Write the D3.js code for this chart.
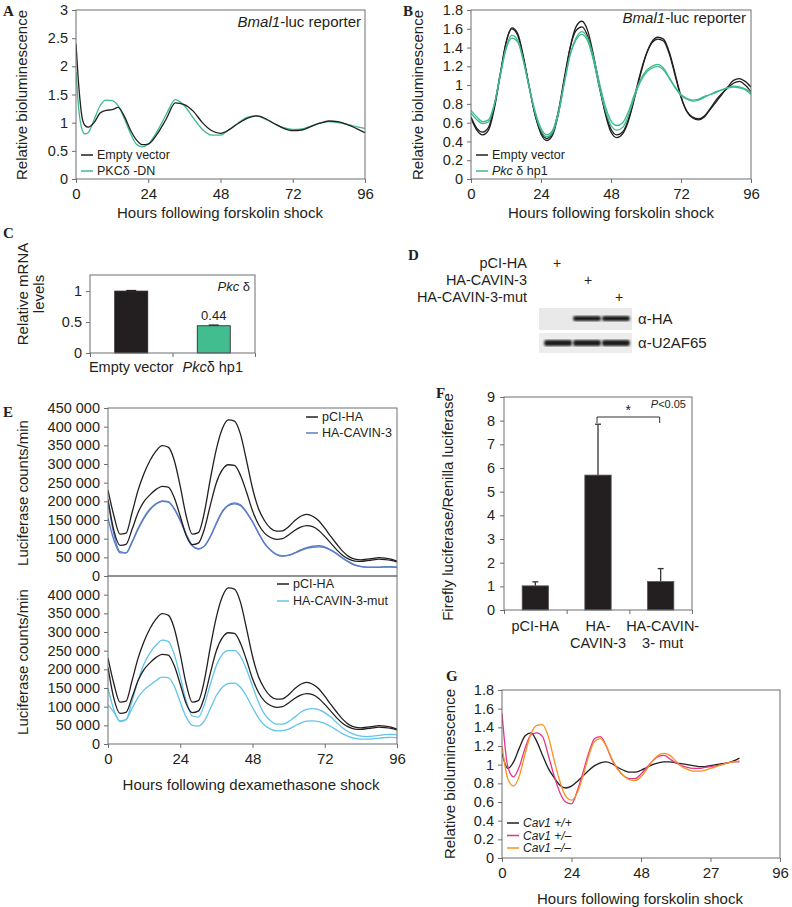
<!DOCTYPE html>
<html>
<head>
<meta charset="utf-8">
<script src="https://cdn.jsdelivr.net/npm/d3@7"></script>
<style>
body { margin: 0; background: #fff; }
svg { font-family: "Liberation Sans", Arial, sans-serif; }
</style>
</head>
<body>
<svg id="fig" width="792" height="907"></svg>
<script>
// ---- data ----
const hoursA = [0,1,2,3,4,6,8,10,12,14,16,18,20,22,24,27,30,33,36,39,42,45,48,51,54,57,60,63,66,69,72,75,78,81,84,87,90,93,96]
const emptyA = [2.4,1.6,1.1,0.95,0.92,1.0,1.17,1.22,1.23,1.27,1.12,0.88,0.7,0.61,0.62,0.8,1.07,1.35,1.32,1.2,1.0,0.86,0.81,0.88,0.99,1.08,1.12,1.07,0.98,0.9,0.86,0.87,0.93,0.99,1.03,1.02,0.97,0.9,0.82]
const pkcDnA = [1.9,1.2,0.88,0.8,0.82,1.05,1.3,1.4,1.39,1.3,1.08,0.82,0.62,0.57,0.62,0.85,1.15,1.41,1.3,1.08,0.88,0.78,0.78,0.88,1.0,1.1,1.12,1.06,0.98,0.91,0.88,0.89,0.94,0.99,1.02,1.0,0.97,0.93,0.9]

const hours2 = [0,2,4,6,8,10,12,14,16,18,20,22,24,26,28,30,32,34,36,38,40,42,44,46,48,50,52,54,56,58,60,62,64,66,68,70,72,74,76,78,80,82,84,86,88,90,92,94,96]
const emptyB1 = [0.65,0.52,0.47,0.52,0.75,1.1,1.45,1.61,1.55,1.3,0.98,0.68,0.48,0.41,0.47,0.7,1.05,1.4,1.62,1.68,1.58,1.32,1.0,0.7,0.5,0.44,0.48,0.62,0.85,1.1,1.32,1.46,1.51,1.49,1.35,1.12,0.88,0.72,0.65,0.63,0.66,0.74,0.82,0.9,0.98,1.05,1.07,1.04,0.98]
const emptyB2 = [0.66,0.54,0.5,0.55,0.78,1.12,1.45,1.6,1.53,1.28,0.97,0.68,0.5,0.43,0.5,0.73,1.08,1.4,1.58,1.62,1.52,1.28,0.98,0.72,0.53,0.47,0.5,0.64,0.87,1.12,1.32,1.45,1.49,1.47,1.33,1.1,0.87,0.72,0.66,0.64,0.67,0.75,0.84,0.91,0.97,1.02,1.04,1.0,0.93]
const hpB1 = [0.73,0.66,0.61,0.63,0.8,1.1,1.38,1.5,1.46,1.25,0.97,0.72,0.54,0.47,0.52,0.72,1.03,1.33,1.5,1.57,1.5,1.3,1.03,0.78,0.62,0.57,0.6,0.72,0.9,1.05,1.15,1.2,1.22,1.18,1.08,0.98,0.9,0.86,0.84,0.85,0.88,0.9,0.93,0.95,0.97,0.99,0.98,0.96,0.92]
const hpB2 = [0.7,0.63,0.59,0.61,0.79,1.1,1.4,1.53,1.48,1.26,0.97,0.7,0.52,0.45,0.5,0.7,1.02,1.32,1.48,1.54,1.47,1.26,0.98,0.74,0.57,0.52,0.55,0.68,0.87,1.03,1.13,1.18,1.2,1.16,1.07,0.97,0.89,0.85,0.83,0.84,0.87,0.9,0.92,0.95,0.97,0.98,0.97,0.95,0.9]

const mrnaGroups = ["Empty vector", "Pkcδ hp1"]
const mrnaValues = [1.0, 0.44]
const mrnaErrors = [0.01, 0.012]

const blotLanes = ["pCI-HA", "HA-CAVIN-3", "HA-CAVIN-3-mut"]
const blotHA = [0, 1, 1]
const blotU2AF = [1, 1, 1]

// luciferase counts, thousands
const pciE1 = [230,160,112,115,170,230,275,310,335,349,345,310,240,160,112,116,170,260,340,395,418,415,380,310,235,180,148,128,120,121,132,148,160,165,160,148,128,106,85,66,52,45,43,45,47,49,48,45,40]
const pciE2 = [205,120,82,85,125,170,200,218,232,240,238,210,160,108,84,88,125,190,250,285,298,296,270,225,175,138,115,103,98,100,110,122,131,135,132,122,106,88,70,55,45,40,39,41,43,45,44,42,38]
const cavinE1 = [200,110,65,62,90,125,155,178,193,200,198,180,150,112,82,73,80,105,140,172,188,193,188,170,145,115,88,70,58,54,56,62,70,76,80,81,78,70,60,48,38,30,26,24,24,24,25,25,24]
const cavinE2 = [155,95,62,62,92,128,158,180,194,201,199,180,148,110,80,72,80,106,142,174,190,196,191,172,146,115,87,69,57,53,55,61,68,74,77,78,76,69,59,47,37,29,25,23,23,23,24,24,23]
const mutE1 = [150,90,62,65,115,170,215,245,265,278,275,240,180,115,75,72,105,160,210,240,250,250,235,200,155,112,80,62,53,53,60,72,85,93,95,92,84,72,57,43,32,25,21,20,21,23,25,26,25]
const mutE2 = [105,85,60,65,95,125,145,158,170,179,178,155,112,72,50,48,62,95,130,152,162,163,152,128,98,70,50,40,35,36,40,48,56,61,62,60,55,47,37,27,20,15,13,13,14,16,17,18,17]

const ratioGroups = ["pCI-HA", "HA-CAVIN-3", "HA-CAVIN-3- mut"]
const ratioValues = [1.02, 5.7, 1.2]
const ratioErrors = [0.17, 2.15, 0.55]

const hoursG = [0,2,4,6,8,10,12,14,16,18,20,22,24,26,28,30,32,34,36,38,40,42,44,46,48,50,52,54,56,58,60,62,64,66,68,70,72,74,76,78,80,82]
const cavWT = [1.12,0.96,1.03,1.18,1.31,1.34,1.25,1.1,0.96,0.86,0.78,0.75,0.77,0.82,0.88,0.94,0.99,1.02,1.03,1.01,0.97,0.94,0.92,0.92,0.94,0.97,1.0,1.02,1.03,1.03,1.02,1.01,1.0,0.99,0.98,0.98,0.99,1.0,1.01,1.02,1.04,1.07]
const cavHet = [1.55,0.98,0.87,0.98,1.18,1.32,1.34,1.3,1.1,0.88,0.7,0.6,0.58,0.72,0.92,1.13,1.28,1.3,1.2,1.05,0.95,0.88,0.85,0.85,0.9,0.97,1.04,1.09,1.1,1.06,1.02,0.99,0.97,0.96,0.96,0.97,0.98,0.99,1.0,1.02,1.03,1.03]
const cavKO = [1.2,0.85,0.77,0.88,1.12,1.33,1.42,1.43,1.3,1.05,0.82,0.66,0.62,0.7,0.88,1.1,1.25,1.28,1.2,1.06,0.95,0.88,0.84,0.83,0.87,0.95,1.04,1.1,1.12,1.1,1.04,0.98,0.95,0.93,0.93,0.94,0.96,0.98,1.0,1.02,1.03,1.04]

const hourTicks = [0, 24, 48, 72, 96]
const hourLabelsG = ["0", "24", "48", "27", "96"]

// ---- styling ----
const ink = "#231f20", frame = "#6d6e71"
const black = "#231f20", green = "#3fba8c", blue = "#5a7ec8", lightBlue = "#62c4ea"
const magenta = "#e6338b", orange = "#f7931e"
const svg = d3.select("#fig")

function letter(t, x, y) {
  svg.append("text").attr("x", x).attr("y", y)
    .attr("font-family", '"Liberation Serif", serif').attr("font-weight", "bold")
    .attr("font-size", 15).attr("fill", ink).text(t)
}

function yTitle(lines, x, y, size) {
  const t = svg.append("text").attr("transform", `translate(${x},${y}) rotate(-90)`)
    .attr("text-anchor", "middle").attr("font-size", size || 15).attr("fill", ink)
  lines.forEach((l, i) => t.append("tspan").attr("x", 0).attr("dy", i ? 16 : 0).text(l))
  return t
}

function styleAxis(a, size) {
  a.select(".domain").remove()
  a.selectAll("line").attr("stroke", frame)
  a.selectAll("text").attr("font-size", size || 14.5).attr("fill", ink)
    .attr("font-family", '"Liberation Sans", Arial, sans-serif')
}

let clipN = 0
function linePanel(o) {
  const x = d3.scaleLinear().domain([0, 96]).range([o.left, o.right])
  const y = d3.scaleLinear().domain(o.yDomain).range([o.bottom, o.top])
  const g = svg.append("g")
  const id = "clip" + (clipN++)
  g.append("clipPath").attr("id", id).append("rect")
    .attr("x", o.left).attr("y", o.top).attr("width", o.right - o.left).attr("height", o.bottom - o.top)
  const line = d3.line().x(d => x(d[0])).y(d => y(d[1])).curve(d3.curveMonotoneX)
  o.series.forEach(s => {
    g.append("path")
      .datum(s.hours.map((h, i) => [h, s.values[i] * (o.mult || 1)]))
      .attr("clip-path", `url(#${id})`)
      .attr("fill", "none").attr("stroke", s.color).attr("stroke-width", 1.3)
      .attr("d", line)
  })
  g.append("rect").attr("x", o.left).attr("y", o.top)
    .attr("width", o.right - o.left).attr("height", o.bottom - o.top)
    .attr("fill", "none").attr("stroke", frame).attr("stroke-width", 1)
  g.append("g").attr("transform", `translate(${o.left},0)`)
    .call(d3.axisLeft(y).tickValues(o.yTicks).tickFormat(o.yFormat).tickSizeInner(4).tickSizeOuter(0).tickPadding(4))
    .call(a => styleAxis(a))
  if (o.xTicks) {
    g.append("g").attr("transform", `translate(0,${o.bottom})`)
      .call(d3.axisBottom(x).tickValues(o.xTicks).tickFormat((d, i) => o.xLabels ? o.xLabels[i] : d)
        .tickSizeInner(4).tickSizeOuter(0).tickPadding(5))
      .call(a => styleAxis(a, 15))
  }
  return { x, y, g }
}

function legend(items, x, y, dy, size) {
  items.forEach((it, i) => {
    const yy = y + i * dy
    svg.append("line").attr("x1", x).attr("x2", x + 12).attr("y1", yy).attr("y2", yy)
      .attr("stroke", it.color).attr("stroke-width", 1.5)
    const t = svg.append("text").attr("x", x + 16).attr("y", yy).attr("dy", "0.35em")
      .attr("font-size", size).attr("fill", ink)
    it.parts.forEach(p => t.append("tspan").attr("font-style", p.i ? "italic" : "normal").text(p.t))
  })
}

function reporterNote(xr, y) {
  const t = svg.append("text").attr("x", xr).attr("y", y).attr("text-anchor", "end")
    .attr("font-size", 15).attr("fill", ink)
  t.append("tspan").attr("font-style", "italic").text("Bmal1")
  t.append("tspan").text("-luc reporter")
}

const fmt1 = d => d3.format("")(+d.toFixed(1))
const fmtK = d3.formatLocale({ decimal: ".", thousands: "\u00a0", grouping: [3], currency: ["", ""] }).format(",d")

// ---- A ----
letter("A", 3, 16)
linePanel({
  left: 76, right: 365, top: 10, bottom: 179, yDomain: [0, 3],
  yTicks: [0, 0.5, 1, 1.5, 2, 2.5, 3], yFormat: fmt1, xTicks: hourTicks,
  series: [{ hours: hoursA, values: pkcDnA, color: green }, { hours: hoursA, values: emptyA, color: black }]
})
reporterNote(361, 27)
legend([{ color: black, parts: [{ t: "Empty vector" }] }, { color: green, parts: [{ t: "PKCδ -DN" }] }], 81, 155, 16, 12.5)
yTitle(["Relative bioluminescence"], 27, 95)
svg.append("text").attr("x", 220).attr("y", 218).attr("text-anchor", "middle").attr("font-size", 15).attr("fill", ink)
  .text("Hours following forskolin shock")

// ---- B ----
letter("B", 403, 16)
linePanel({
  left: 471, right: 751, top: 10, bottom: 179, yDomain: [0, 1.8],
  yTicks: [0, 0.2, 0.4, 0.6, 0.8, 1, 1.2, 1.4, 1.6, 1.8], yFormat: fmt1, xTicks: hourTicks,
  series: [
    { hours: hours2, values: emptyB1, color: black }, { hours: hours2, values: emptyB2, color: black },
    { hours: hours2, values: hpB1, color: green }, { hours: hours2, values: hpB2, color: green }
  ]
})
reporterNote(746, 23)
legend([{ color: black, parts: [{ t: "Empty vector" }] }, { color: green, parts: [{ t: "Pkc", i: 1 }, { t: " δ hp1" }] }], 476, 155, 16, 12.5)
yTitle(["Relative bioluminescence"], 423, 95)
svg.append("text").attr("x", 611).attr("y", 218).attr("text-anchor", "middle").attr("font-size", 15).attr("fill", ink)
  .text("Hours following forskolin shock")

// ---- C ----
letter("C", 3, 238)
{
  const left = 90, right = 255, top = 275, bottom = 353
  const x = d3.scaleBand().domain(mrnaGroups).range([left, right]).paddingInner(0.6).paddingOuter(0.3)
  const y = d3.scaleLinear().domain([0, 1.26]).range([bottom, top])
  const g = svg.append("g")
  g.selectAll(".barC").data(mrnaGroups).join("rect").attr("class", "barC")
    .attr("x", d => x(d)).attr("width", x.bandwidth())
    .attr("y", (d, i) => y(mrnaValues[i])).attr("height", (d, i) => y(0) - y(mrnaValues[i]))
    .attr("fill", (d, i) => i ? "#41bd8f" : black).attr("stroke", ink).attr("stroke-width", 0.8)
  mrnaGroups.forEach((d, i) => {
    const cx = x(d) + x.bandwidth() / 2
    g.append("line").attr("x1", cx - 5).attr("x2", cx + 5)
      .attr("y1", y(mrnaValues[i] + mrnaErrors[i])).attr("y2", y(mrnaValues[i] + mrnaErrors[i]))
      .attr("stroke", ink).attr("stroke-width", 1.2)
  })
  g.append("rect").attr("x", left).attr("y", top).attr("width", right - left).attr("height", bottom - top)
    .attr("fill", "none").attr("stroke", frame)
  g.append("g").attr("transform", `translate(${left},0)`)
    .call(d3.axisLeft(y).tickValues([0, 0.5, 1]).tickFormat(fmt1).tickSizeInner(4).tickSizeOuter(0).tickPadding(4))
    .call(a => styleAxis(a))
  g.append("g").attr("transform", `translate(0,${bottom})`)
    .call(d3.axisBottom(d3.scaleLinear().domain([0, 2]).range([left, right])).tickValues([0, 1, 2]).tickFormat("").tickSizeInner(4).tickSizeOuter(0))
    .call(a => styleAxis(a))
  g.append("text").attr("x", x(mrnaGroups[0]) + x.bandwidth() / 2).attr("y", 372)
    .attr("font-size", 14.5).attr("fill", ink).attr("text-anchor", "middle").text(mrnaGroups[0])
  const lab2 = g.append("text").attr("x", x(mrnaGroups[1]) + x.bandwidth() / 2 - 1).attr("y", 372)
    .attr("font-size", 14.5).attr("fill", ink).attr("text-anchor", "middle")
  lab2.append("tspan").attr("font-style", "italic").text("Pkc")
  lab2.append("tspan").text("δ hp1")
  g.append("text").attr("x", x(mrnaGroups[1]) + x.bandwidth() / 2).attr("y", y(mrnaValues[1]) - 6)
    .attr("text-anchor", "middle").attr("font-size", 13).attr("fill", ink).text(mrnaValues[1].toFixed(2))
  const pk = g.append("text").attr("x", 250).attr("y", 291).attr("text-anchor", "end").attr("font-size", 13).attr("fill", ink)
  pk.append("tspan").attr("font-style", "italic").text("Pkc")
  pk.append("tspan").text(" δ")
  yTitle(["Relative mRNA", "levels"], 28, 294)
}

// ---- D ----
letter("D", 408, 260)
{
  const lane = d3.scaleBand().domain(blotLanes).range([543, 631]).padding(0.04)
  const plusX = d3.scalePoint().domain(blotLanes).range([557, 619])
  const g = svg.append("g")
  const defs = svg.append("defs")
  defs.append("filter").attr("id", "blur").append("feGaussianBlur").attr("stdDeviation", 0.9)
  blotLanes.forEach((d, i) => {
    g.append("text").attr("x", 527).attr("y", 263 + i * 17).attr("dy", "0.35em").attr("text-anchor", "end")
      .attr("font-size", 14.5).attr("fill", ink).text(d)
    g.append("text").attr("x", plusX(d)).attr("y", 263 + i * 17).attr("dy", "0.35em").attr("text-anchor", "middle")
      .attr("font-size", 14).attr("fill", ink).text("+")
  })
  g.append("rect").attr("x", 539).attr("y", 308).attr("width", 93).attr("height", 22).attr("fill", "#e9e9e9")
  g.append("rect").attr("x", 539).attr("y", 333).attr("width", 93).attr("height", 20).attr("fill", "#ededed")
  g.selectAll(".bandHA").data(blotLanes.filter((d, i) => blotHA[i])).join("rect").attr("class", "bandHA")
    .attr("x", d => lane(d)).attr("width", lane.bandwidth()).attr("y", 316).attr("height", 5)
    .attr("rx", 2).attr("fill", "#1e1e1e").attr("filter", "url(#blur)")
  g.selectAll(".bandU").data(blotLanes.filter((d, i) => blotU2AF[i])).join("rect").attr("class", "bandU")
    .attr("x", d => lane(d)).attr("width", lane.bandwidth()).attr("y", 340).attr("height", 6)
    .attr("rx", 2).attr("fill", "#1e1e1e").attr("filter", "url(#blur)")
  g.append("text").attr("x", 638).attr("y", 319).attr("dy", "0.35em").attr("font-size", 15).attr("fill", ink).text("α-HA")
  g.append("text").attr("x", 638).attr("y", 343).attr("dy", "0.35em").attr("font-size", 15).attr("fill", ink).text("α-U2AF65")
}

// ---- E ----
letter("E", 3, 417)
linePanel({
  left: 108, right: 397, top: 408, bottom: 576, yDomain: [0, 450000], mult: 1000,
  yTicks: d3.range(0, 450001, 50000), yFormat: fmtK,
  series: [
    { hours: hours2, values: cavinE1, color: blue }, { hours: hours2, values: cavinE2, color: blue },
    { hours: hours2, values: pciE1, color: black }, { hours: hours2, values: pciE2, color: black }
  ]
})
linePanel({
  left: 108, right: 397, top: 576, bottom: 744, yDomain: [0, 450000], mult: 1000,
  yTicks: d3.range(0, 400001, 50000), yFormat: fmtK, xTicks: hourTicks,
  series: [
    { hours: hours2, values: mutE1, color: lightBlue }, { hours: hours2, values: mutE2, color: lightBlue },
    { hours: hours2, values: pciE1, color: black }, { hours: hours2, values: pciE2, color: black }
  ]
})
legend([{ color: black, parts: [{ t: "pCI-HA" }] }, { color: blue, parts: [{ t: "HA-CAVIN-3" }] }], 306, 417, 16, 12.5)
legend([{ color: black, parts: [{ t: "pCI-HA" }] }, { color: lightBlue, parts: [{ t: "HA-CAVIN-3-mut" }] }], 277, 584, 17, 12.5)
yTitle(["Luciferase counts/min"], 28, 493)
yTitle(["Luciferase counts/min"], 28, 662)
svg.append("text").attr("x", 251).attr("y", 790).attr("text-anchor", "middle").attr("font-size", 15).attr("fill", ink)
  .text("Hours following dexamethasone shock")

// ---- F ----
letter("F", 436, 398)
{
  const left = 504, right = 692, top = 397, bottom = 610
  const x = d3.scaleBand().domain(ratioGroups).range([left, right]).paddingInner(0.58).paddingOuter(0.29)
  const y = d3.scaleLinear().domain([0, 9]).range([bottom, top])
  const g = svg.append("g")
  ratioGroups.forEach((d, i) => {
    const cx = x(d) + x.bandwidth() / 2
    g.append("line").attr("x1", cx).attr("x2", cx).attr("y1", y(ratioValues[i])).attr("y2", y(ratioValues[i] + ratioErrors[i]))
      .attr("stroke", "#333").attr("stroke-width", 1.3)
    g.append("line").attr("x1", cx - 3).attr("x2", cx + 3).attr("y1", y(ratioValues[i] + ratioErrors[i])).attr("y2", y(ratioValues[i] + ratioErrors[i]))
      .attr("stroke", "#333").attr("stroke-width", 1.3)
  })
  g.selectAll(".barF").data(ratioGroups).join("rect").attr("class", "barF")
    .attr("x", d => x(d)).attr("width", x.bandwidth())
    .attr("y", (d, i) => y(ratioValues[i])).attr("height", (d, i) => y(0) - y(ratioValues[i]))
    .attr("fill", black).attr("stroke", "#555").attr("stroke-width", 0.8)
  g.append("rect").attr("x", left).attr("y", top).attr("width", right - left).attr("height", bottom - top)
    .attr("fill", "none").attr("stroke", frame)
  g.append("g").attr("transform", `translate(${left},0)`)
    .call(d3.axisLeft(y).tickValues(d3.range(0, 10)).tickSizeInner(4).tickSizeOuter(0).tickPadding(5))
    .call(a => styleAxis(a))
  g.append("g").attr("transform", `translate(0,${bottom})`)
    .call(d3.axisBottom(d3.scaleLinear().domain([0, 3]).range([left, right])).tickValues([0, 1, 2, 3]).tickFormat("").tickSizeInner(4).tickSizeOuter(0))
    .call(a => styleAxis(a))
  const catLines = [["pCI-HA"], ["HA-", "CAVIN-3"], ["HA-CAVIN-", "3- mut"]]
  ratioGroups.forEach((d, i) => {
    catLines[i].forEach((l, j) => {
      g.append("text").attr("x", x(d) + x.bandwidth() / 2 + (i === 2 ? 2 : 0)).attr("y", 631 + j * 17)
        .attr("text-anchor", "middle").attr("font-size", 14.5).attr("fill", ink).text(l)
    })
  })
  // significance bracket between HA-CAVIN-3 and mut
  const c1 = x(ratioGroups[1]) + x.bandwidth() / 2 - 1, c2 = x(ratioGroups[2]) + x.bandwidth() / 2 - 1
  g.append("path").attr("d", `M${c1},${423}V${417}H${c2}V${423}`).attr("fill", "none").attr("stroke", "#333").attr("stroke-width", 1)
  g.append("text").attr("x", (c1 + c2) / 2).attr("y", 415).attr("text-anchor", "middle").attr("font-size", 14).attr("fill", ink).text("*")
  const p = g.append("text").attr("x", 686).attr("y", 408).attr("text-anchor", "end").attr("font-size", 11).attr("fill", ink)
  p.append("tspan").attr("font-style", "italic").text("P")
  p.append("tspan").text("<0.05")
  yTitle(["Firefly luciferase/Renilla luciferase"], 453, 507)
}

// ---- G ----
letter("G", 446, 681)
linePanel({
  left: 502, right: 780, top: 690, bottom: 858, yDomain: [0, 1.8],
  yTicks: [0, 0.2, 0.4, 0.6, 0.8, 1, 1.2, 1.4, 1.6, 1.8], yFormat: fmt1,
  xTicks: hourTicks, xLabels: hourLabelsG,
  series: [
    { hours: hoursG, values: cavWT, color: black },
    { hours: hoursG, values: cavHet, color: magenta },
    { hours: hoursG, values: cavKO, color: orange }
  ]
})
legend([
  { color: black, parts: [{ t: "Cav1 +/+", i: 1 }] },
  { color: magenta, parts: [{ t: "Cav1 +/–", i: 1 }] },
  { color: orange, parts: [{ t: "Cav1 –/–", i: 1 }] }
], 507, 823, 12.5, 12)
yTitle(["Relative bioluminescence"], 455, 774)
svg.append("text").attr("x", 640).attr("y", 904).attr("text-anchor", "middle").attr("font-size", 15).attr("fill", ink)
  .text("Hours following forskolin shock")
</script>
</body>
</html>
